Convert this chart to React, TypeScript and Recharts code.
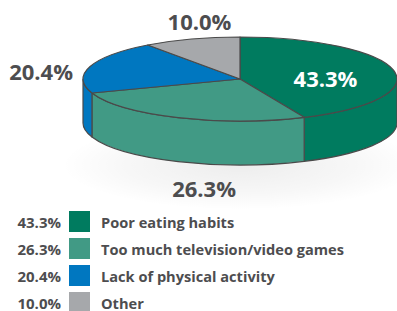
import React from "react";
import { Pie, PieChart } from "recharts";

const categories = [
  "Poor eating habits",
  "Too much television/video games",
  "Lack of physical activity",
  "Other",
];
const shares = [43.3, 26.3, 20.4, 10.0];
const colors = ["#007b5f", "#419a85", "#0077c0", "#a6a8ab"];

const data = categories.map((name, i) => ({ name, value: shares[i], fill: colors[i] }));

const FONT = "'Open Sans', 'Noto Sans', sans-serif";
const INK = "#4d4d4f";
const EDGE = "#4a4a4a";
const TILT = 42 / 157;
const DEPTH = 44;
const RAD = Math.PI / 180;

// hand-placed offsets from each slice's rim point (midAngle)
const labelNudge: [number, number][] = [
  [-68, 8],
  [26, 70],
  [-49, 4],
  [8, -18],
];

function fmt(n: number) {
  return `${n.toFixed(1)}%`;
}

function Slice3D(props: any) {
  const { cx, cy, outerRadius, startAngle, endAngle, fill } = props;
  const rx = outerRadius;
  const ry = outerRadius * TILT;
  const pt = (a: number, dy = 0) =>
    `${cx + rx * Math.cos(a * RAD)},${cy - ry * Math.sin(a * RAD) + dy}`;
  const hi = Math.max(startAngle, endAngle);
  const lo = Math.min(startAngle, endAngle);
  const large = hi - lo > 180 ? 1 : 0;
  const top = `M${cx},${cy} L${pt(hi)} A${rx},${ry} 0 ${large} 1 ${pt(lo)} Z`;

  const walls: string[] = [];
  for (const k of [-360, 0, 360]) {
    const a = Math.min(hi, k);
    const b = Math.max(lo, k - 180);
    if (a - b > 0.01) {
      walls.push(
        `M${pt(a)} A${rx},${ry} 0 0 1 ${pt(b)} L${pt(b, DEPTH)} A${rx},${ry} 0 0 0 ${pt(a, DEPTH)} Z`
      );
    }
  }

  return (
    <g>
      {walls.map((d, i) => (
        <path key={i} d={d} fill={fill} stroke={EDGE} strokeWidth={1.2} strokeLinejoin="round" />
      ))}
      <path d={top} fill={fill} stroke={EDGE} strokeWidth={1.2} strokeLinejoin="round" />
    </g>
  );
}

function SliceLabel(props: any) {
  const { cx, cy, outerRadius, midAngle, index, value } = props;
  const ry = outerRadius * TILT;
  const [dx, dy] = labelNudge[index];
  const x = cx + outerRadius * Math.cos(midAngle * RAD) + dx;
  const y = cy - ry * Math.sin(midAngle * RAD) + dy;
  return (
    <text
      x={x}
      y={y}
      textAnchor="middle"
      dominantBaseline="central"
      fill={index === 0 ? "#ffffff" : INK}
      fontFamily={FONT}
      fontWeight={700}
      fontSize={22}
    >
      {fmt(value)}
    </text>
  );
}

export default function App() {
  return (
    <div
      style={{
        position: "absolute",
        left: 0,
        top: 0,
        width: 397,
        height: 311,
        background: "#ffffff",
        overflow: "hidden",
        fontFamily: FONT,
      }}
    >
      <div
        style={{
          position: "absolute",
          left: 60,
          top: 120,
          width: 360,
          height: 90,
          background:
            "radial-gradient(ellipse at center, rgba(0,0,0,0.07) 0%, rgba(0,0,0,0.03) 45%, rgba(0,0,0,0) 70%)",
        }}
      />
      <div style={{ position: "absolute", left: 0, top: 0 }}>
        <PieChart width={397} height={311} margin={{ top: 0, right: 0, bottom: 0, left: 0 }}>
          <Pie
            data={data}
            dataKey="value"
            nameKey="name"
            cx={240}
            cy={79}
            outerRadius={157}
            startAngle={90}
            endAngle={-270}
            stroke={EDGE}
            shape={Slice3D}
            label={SliceLabel}
            labelLine={false}
            isAnimationActive={false}
          />
        </PieChart>
      </div>
      <div style={{ position: "absolute", left: 0, top: 208 }}>
        {categories.map((name, i) => (
          <div
            key={name}
            style={{
              display: "flex",
              alignItems: "center",
              height: 27,
              color: INK,
              fontWeight: 700,
              fontSize: 14.6,
            }}
          >
            <span style={{ width: 61, textAlign: "right", fontSize: 15 }}>{fmt(shares[i])}</span>
            <span
              style={{
                width: 21,
                height: 21,
                marginLeft: 8,
                marginRight: 11,
                background: colors[i],
              }}
            />
            <span>{name}</span>
          </div>
        ))}
      </div>
    </div>
  );
}
